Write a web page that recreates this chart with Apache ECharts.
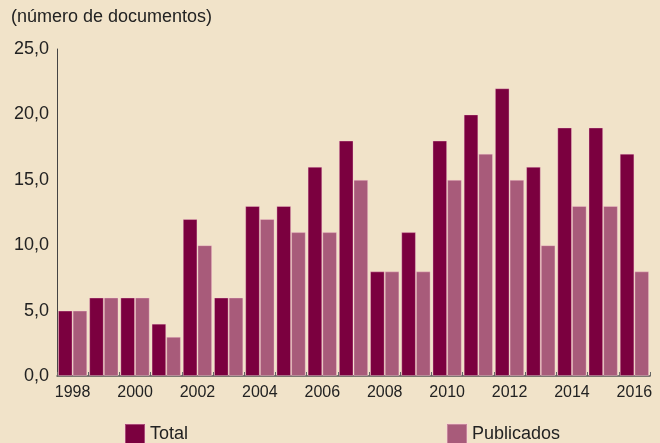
<!DOCTYPE html>
<html>
<head>
<meta charset="utf-8">
<script src="https://cdn.jsdelivr.net/npm/echarts@6/dist/echarts.min.js"></script>
<style>
  html, body { margin: 0; padding: 0; background: #F1E3C9; }
  #myCharts { width: 660px; height: 443px; }
</style>
</head>
<body>
<div id="myCharts"></div>
<script>
// dados
const years = ["1998", "1999", "2000", "2001", "2002", "2003", "2004", "2005", "2006", "2007",
  "2008", "2009", "2010", "2011", "2012", "2013", "2014", "2015", "2016"];
const total = [5, 6, 6, 4, 12, 6, 13, 13, 16, 18, 8, 11, 18, 20, 22, 16, 19, 19, 17];
const publicados = [5, 6, 6, 3, 10, 6, 12, 11, 11, 15, 8, 8, 15, 17, 15, 10, 13, 13, 8];

const myCharts = echarts.init(document.getElementById("myCharts"));
const font = "Liberation Sans, Arial, sans-serif";

let option = {
  backgroundColor: "#F1E3C9",
  animation: false,
  title: {
    text: "(número de documentos)",
    left: 11,
    top: 8,
    padding: 0,
    textStyle: { color: "#222", fontSize: 18, fontWeight: "normal", fontFamily: font }
  },
  color: ["#7B003F", "#A85B7A"],
  legend: {
    left: 124,
    top: 423,
    padding: 0,
    itemWidth: 20,
    itemHeight: 20,
    itemGap: 258,
    icon: "rect",
    textStyle: { color: "#222", fontSize: 18, fontFamily: font }
  },
  grid: { left: 57, right: 10, top: 49, bottom: 67 },
  xAxis: {
    type: "category",
    data: years,
    axisLine: { lineStyle: { color: "#555", width: 1.5 } },
    axisTick: { show: true, inside: true, length: 4, interval: 0, lineStyle: { color: "#666" } },
    axisLabel: { interval: 1, color: "#222", fontSize: 16, fontFamily: font, margin: 9 }
  },
  yAxis: {
    type: "value",
    min: 0,
    max: 25,
    interval: 5,
    axisLine: { show: true, lineStyle: { color: "#444" } },
    axisTick: { show: false },
    splitLine: { show: false },
    axisLabel: {
      color: "#222",
      fontSize: 18,
      fontFamily: font,
      margin: 8,
      formatter: v => v.toFixed(1).replace(".", ",")
    }
  },
  series: [
    {
      name: "Total",
      type: "bar",
      data: total,
      barGap: "0%",
      barCategoryGap: "6%",
      itemStyle: { borderColor: "rgba(255,210,220,0.35)", borderWidth: 1 }
    },
    {
      name: "Publicados",
      type: "bar",
      data: publicados,
      barGap: "0%",
      barCategoryGap: "6%",
      itemStyle: { borderColor: "rgba(255,210,220,0.35)", borderWidth: 1 }
    }
  ]
};
myCharts.setOption(option);
</script>
</body>
</html>
